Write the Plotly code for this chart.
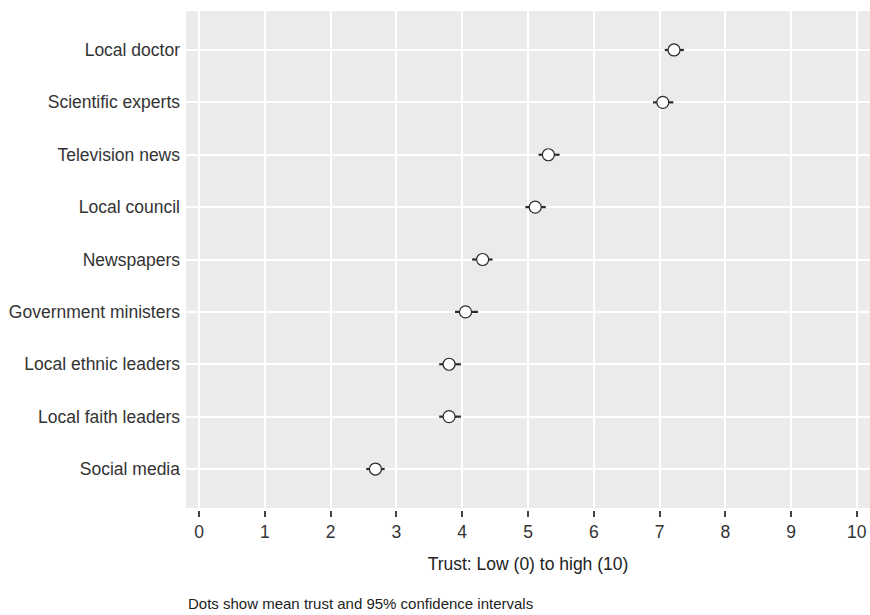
import plotly.graph_objects as go

categories = ["Local doctor", "Scientific experts", "Television news", "Local council",
              "Newspapers", "Government ministers", "Local ethnic leaders",
              "Local faith leaders", "Social media"]
means = [7.22, 7.05, 5.31, 5.11, 4.31, 4.05, 3.80, 3.80, 2.68]
lower = [7.08, 6.90, 5.16, 4.96, 4.15, 3.89, 3.65, 3.65, 2.54]
upper = [7.37, 7.21, 5.48, 5.27, 4.46, 4.24, 3.98, 3.98, 2.82]
x_ticks = list(range(0, 11))

err_plus = [u - m for u, m in zip(upper, means)]
err_minus = [m - l for m, l in zip(means, lower)]

FONT = "Liberation Sans, Arial, Helvetica, sans-serif"

fig = go.Figure()
fig.add_trace(go.Scatter(
    x=means, y=categories, mode="markers",
    marker=dict(size=12, color="white", line=dict(color="#2b2b2b", width=1.2)),
    error_x=dict(type="data", array=err_plus, arrayminus=err_minus,
                 width=0, thickness=2.2, color="#2b2b2b"),
    showlegend=False, hoverinfo="x+y",
))

fig.update_layout(
    width=870, height=615,
    margin=dict(l=186, r=0, t=11, b=107),
    paper_bgcolor="white", plot_bgcolor="#EBEBEB",
    font=dict(family=FONT, size=17.5, color="#333333"),
    annotations=[dict(
        text="Dots show mean trust and 95% confidence intervals",
        xref="paper", yref="paper", x=0, y=-0.193, xanchor="left", yanchor="middle",
        showarrow=False,
        font=dict(family=FONT, size=15, color="#222222"))],
)
fig.update_xaxes(
    range=[-0.2, 10.2], tickvals=x_ticks, ticktext=[str(t) for t in x_ticks],
    showgrid=True, gridcolor="white", gridwidth=1.7, zeroline=False,
    showline=True, linecolor="white", linewidth=3,
    ticks="outside", ticklen=6, tickwidth=1.5, tickcolor="#444444",
    tickfont=dict(family=FONT, size=17.5, color="#333333"),
    title=dict(text="Trust: Low (0) to high (10)",
               font=dict(family=FONT, size=17.5, color="#222222"), standoff=17),
)
fig.update_yaxes(
    type="category", categoryorder="array", categoryarray=categories,
    range=[8.744, -0.744],
    showgrid=True, gridcolor="white", gridwidth=1.7, zeroline=False,
    ticks="", ticklabelstandoff=5,
    tickfont=dict(family=FONT, size=17.5, color="#333333"),
)

fig.write_html("out.html", config={"displayModeBar": False},
               post_script="document.body.style.margin='0';document.body.style.padding='0';")
